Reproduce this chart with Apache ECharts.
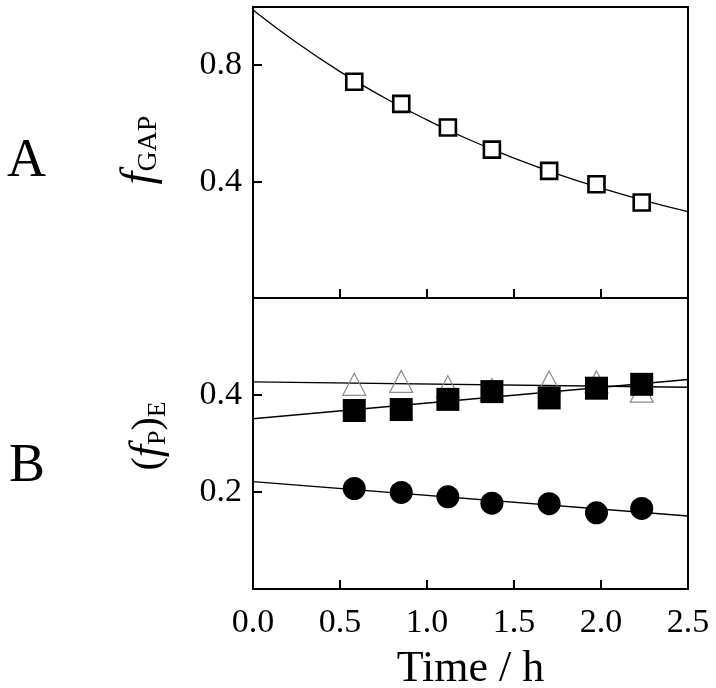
<!DOCTYPE html>
<html>
<head>
<meta charset="utf-8">
<script src="https://cdn.jsdelivr.net/npm/echarts@6/dist/echarts.min.js"></script>
<style>html,body{margin:0;padding:0;background:#fff}#c{width:716px;height:688px}</style>
</head>
<body>
<div id="c"></div>
<script>
// Data
const times = [0.582, 0.852, 1.12, 1.373, 1.702, 1.974, 2.234];
const fGap = [0.743, 0.667, 0.586, 0.51, 0.437, 0.391, 0.328];
const fitT = [0, 0.25, 0.5, 0.75, 1.0, 1.25, 1.5, 1.75, 2.0, 2.25, 2.5];
const fitGap = [0.99, 0.878, 0.778, 0.690, 0.612, 0.542, 0.481, 0.426, 0.378, 0.335, 0.297];
const triVals = [0.422, 0.428, 0.417, 0.411, 0.427, 0.427, 0.408];
const sqVals = [0.368, 0.37, 0.391, 0.407, 0.394, 0.414, 0.422];
const circVals = [0.207, 0.199, 0.19, 0.177, 0.176, 0.157, 0.166];
const lineT = [0, 2.5];
const triFit = [0.427, 0.416];
const sqFit = [0.351, 0.432];
const circFit = [0.2215, 0.1505];
const xTicks = [0, 0.5, 1.0, 1.5, 2.0, 2.5];
const yTicksA = [0.4, 0.8];
const yTicksB = [0.2, 0.4];

const FONT = "'Liberation Serif', 'Times New Roman', serif";
const pair = (xs, ys) => xs.map((x, i) => [x, ys[i]]);
const fmt = ticks => v => ticks.some(t => Math.abs(t - v) < 1e-6) ? v.toFixed(1) : '';

const tick = {show: true, inside: true, length: 9, lineStyle: {color: '#000', width: 2}};
const lbl = {color: '#000', fontFamily: FONT, fontSize: 34};

const chart = echarts.init(document.getElementById('c'), null, {renderer: 'canvas'});
chart.setOption({
  animation: false,
  backgroundColor: '#fff',
  grid: [
    {left: 253, right: 28, top: 7, height: 291, show: true, borderColor: '#000', borderWidth: 2, backgroundColor: 'transparent', containLabel: false, outerBoundsMode: 'none'},
    {left: 253, right: 28, top: 298, bottom: 99, show: true, borderColor: '#000', borderWidth: 2, backgroundColor: 'transparent', containLabel: false, outerBoundsMode: 'none'}
  ],
  xAxis: [
    {type: 'value', gridIndex: 0, min: 0, max: 2.5, interval: 0.5, axisLine: {show: false}, axisTick: tick, axisLabel: {show: false}, splitLine: {show: false}},
    {type: 'value', gridIndex: 1, min: 0, max: 2.5, interval: 0.5, axisLine: {show: false}, axisTick: tick,
     axisLabel: Object.assign({margin: 17, formatter: fmt(xTicks)}, lbl), splitLine: {show: false},
     name: 'Time / h', nameLocation: 'middle', nameGap: 58, nameTextStyle: {color: '#000', fontFamily: FONT, fontSize: 44}}
  ],
  yAxis: [
    {type: 'value', gridIndex: 0, min: 0, max: 1.0, interval: 0.4, axisLine: {show: false}, axisTick: tick,
     axisLabel: Object.assign({margin: 11, formatter: fmt(yTicksA)}, lbl), splitLine: {show: false}},
    {type: 'value', gridIndex: 1, min: 0, max: 0.6, interval: 0.2, axisLine: {show: false}, axisTick: tick,
     axisLabel: Object.assign({margin: 11, formatter: fmt(yTicksB)}, lbl), splitLine: {show: false}}
  ],
  graphic: [
    {type: 'text', left: 7, top: 135, style: {text: 'A', fontFamily: FONT, fontSize: 54, fill: '#000'}},
    {type: 'text', left: 9, top: 440, style: {text: 'B', fontFamily: FONT, fontSize: 54, fill: '#000'}},
    {type: 'group', x: 140, y: 150, rotation: Math.PI / 2, children: [
      {type: 'text', x: 0, y: 0,
       style: {text: '{f|f}{s|GAP}', align: 'center', verticalAlign: 'middle',
         rich: {
           f: {fontFamily: FONT, fontStyle: 'italic', fontSize: 46, fill: '#000', lineHeight: 46},
           s: {fontFamily: FONT, fontSize: 28, fill: '#000', lineHeight: 12, verticalAlign: 'bottom'}
         }}}
    ]},
    {type: 'group', x: 148, y: 436, rotation: Math.PI / 2, children: [
      {type: 'text', x: 0, y: 0,
       style: {text: '{p|(}{f|f}{s|P}{p|)}{s|E}', align: 'center', verticalAlign: 'middle',
         rich: {
           p: {fontFamily: FONT, fontSize: 40, fill: '#000', lineHeight: 46},
           f: {fontFamily: FONT, fontStyle: 'italic', fontSize: 44, fill: '#000', lineHeight: 46},
           s: {fontFamily: FONT, fontSize: 26, fill: '#000', lineHeight: 12, verticalAlign: 'bottom'}
         }}}
    ]}
  ],
  series: [
    {type: 'line', xAxisIndex: 0, yAxisIndex: 0, data: pair(fitT, fitGap), smooth: true, showSymbol: false, symbol: 'none',
     lineStyle: {color: '#000', width: 1.3}, z: 2},
    {type: 'scatter', xAxisIndex: 0, yAxisIndex: 0, data: pair(times, fGap), symbol: 'rect', symbolSize: 16,
     itemStyle: {color: '#fff', borderColor: '#000', borderWidth: 2.6, opacity: 1}, z: 3},
    {type: 'line', xAxisIndex: 1, yAxisIndex: 1, data: pair(lineT, triFit), showSymbol: false, symbol: 'none',
     lineStyle: {color: '#000', width: 1.3}, z: 2},
    {type: 'line', xAxisIndex: 1, yAxisIndex: 1, data: pair(lineT, sqFit), showSymbol: false, symbol: 'none',
     lineStyle: {color: '#000', width: 1.3}, z: 2},
    {type: 'line', xAxisIndex: 1, yAxisIndex: 1, data: pair(lineT, circFit), showSymbol: false, symbol: 'none',
     lineStyle: {color: '#000', width: 1.3}, z: 2},
    {type: 'scatter', xAxisIndex: 1, yAxisIndex: 1, data: pair(times, triVals), symbol: 'triangle', symbolSize: [23, 22],
     itemStyle: {color: 'rgba(255,255,255,0)', borderColor: '#8c8c8c', borderWidth: 1.2, opacity: 1}, z: 3},
    {type: 'scatter', xAxisIndex: 1, yAxisIndex: 1, data: pair(times, sqVals), symbol: 'rect', symbolSize: 23,
     itemStyle: {color: '#000', opacity: 1}, z: 4},
    {type: 'scatter', xAxisIndex: 1, yAxisIndex: 1, data: pair(times, circVals), symbol: 'circle', symbolSize: 23,
     itemStyle: {color: '#000', opacity: 1}, z: 4}
  ]
});
</script>
</body>
</html>
